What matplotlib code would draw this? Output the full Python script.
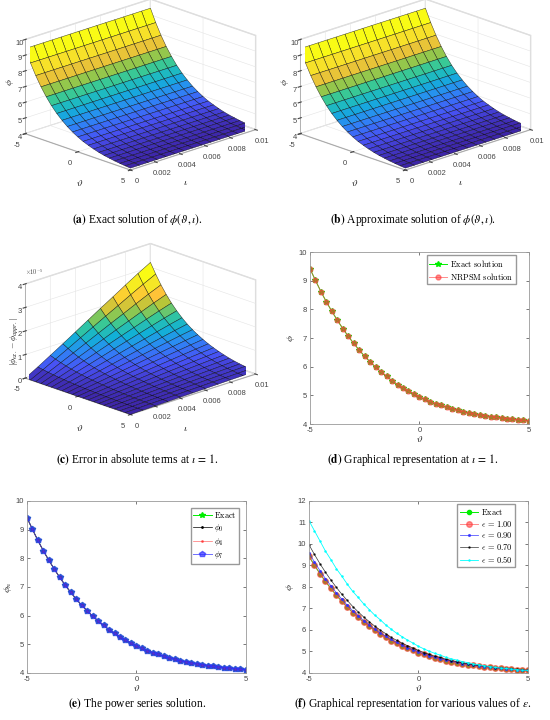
import numpy as np
import matplotlib.pyplot as plt
from matplotlib.colors import LinearSegmentedColormap

# ---------------- data ----------------
theta = np.linspace(-5, 5, 41)

phi_exact = [9.42, 9.01, 8.62, 8.26, 7.93, 7.62, 7.33, 7.06, 6.81, 6.58, 6.36,
             6.17, 5.98, 5.82, 5.66, 5.51, 5.38, 5.26, 5.15, 5.05, 4.95, 4.86,
             4.78, 4.71, 4.65, 4.58, 4.53, 4.48, 4.43, 4.39, 4.35, 4.32, 4.29,
             4.26, 4.23, 4.21, 4.19, 4.17, 4.15, 4.13, 4.12]
phi_nrpsm = phi_exact
phi_0 = phi_exact
phi_4 = phi_exact
phi_7 = phi_exact

phi_e100 = phi_exact
phi_e090 = [9.58, 9.16, 8.76, 8.39, 8.05, 7.73, 7.43, 7.15, 6.89, 6.66, 6.43,
            6.24, 6.04, 5.87, 5.71, 5.56, 5.42, 5.30, 5.18, 5.08, 4.98, 4.89,
            4.80, 4.73, 4.67, 4.60, 4.55, 4.49, 4.44, 4.40, 4.36, 4.33, 4.30,
            4.27, 4.24, 4.22, 4.20, 4.18, 4.15, 4.13, 4.12]
phi_e070 = [9.96, 9.51, 9.08, 8.69, 8.32, 7.98, 7.66, 7.37, 7.09, 6.84, 6.60,
            6.39, 6.18, 6.00, 5.83, 5.66, 5.52, 5.39, 5.27, 5.16, 5.05, 4.95,
            4.86, 4.78, 4.72, 4.64, 4.58, 4.53, 4.47, 4.43, 4.39, 4.35, 4.32,
            4.29, 4.25, 4.23, 4.21, 4.19, 4.17, 4.14, 4.13]
phi_e050 = [11.08, 10.61, 10.14, 9.67, 9.27, 8.85, 8.50, 8.13, 7.79, 7.51, 7.21,
            6.95, 6.69, 6.48, 6.24, 6.04, 5.85, 5.69, 5.53, 5.39, 5.24, 5.12,
            5.01, 4.91, 4.83, 4.73, 4.66, 4.60, 4.53, 4.48, 4.42, 4.38, 4.34,
            4.30, 4.26, 4.23, 4.21, 4.18, 4.16, 4.13, 4.12]

# surface grids
theta_s = theta[::2]
iota_a = np.linspace(0, 0.01, 15)
iota_c = np.linspace(0, 0.01, 11)
# error (x1e-5) along iota at theta=-5, and along theta at iota=0.01
err_iota_edge = [0.0, 0.30, 0.62, 0.94, 1.27, 1.60, 1.93, 2.25, 2.58, 2.90, 3.20]
err_theta_edge = [3.20, 2.78, 2.40, 2.07, 1.78, 1.53, 1.31, 1.12, 0.96, 0.82, 0.70,
                  0.59, 0.50, 0.42, 0.35, 0.29, 0.24, 0.20, 0.17, 0.14, 0.12]

# ---------------- style ----------------
plt.rcParams['mathtext.fontset'] = 'cm'
plt.rcParams['font.family'] = ['Liberation Sans', 'DejaVu Sans']
plt.rcParams['axes.unicode_minus'] = False
plt.rcParams['grid.color'] = '#e4e4e4'
plt.rcParams['grid.linewidth'] = 0.4

parula = LinearSegmentedColormap.from_list('parula', [
    (0.2422, 0.1504, 0.6603), (0.2810, 0.3228, 0.9579), (0.1786, 0.5289, 0.9682),
    (0.0689, 0.6948, 0.8394), (0.2161, 0.7843, 0.5923), (0.6720, 0.7793, 0.2227),
    (0.9970, 0.7659, 0.2199), (0.9598, 0.9135, 0.1425), (0.9769, 0.9839, 0.0805)])

tick_col = '#444444'
fig = plt.figure(figsize=(5.5, 7.2), dpi=100)


def px(x, y):
    # pixel position (from top-left) -> figure fraction
    return x / 550, 1 - y / 720


def surf_axes(rect, T, I, Z, zlim, zticks):
    ax = fig.add_axes(rect, projection='3d')
    ax.set_proj_type('ortho')
    ax.plot_surface(T, I, Z, cmap=parula, edgecolor=(0, 0, 0, 0.75),
                    linewidth=0.35, shade=False, rstride=1, cstride=1)
    ax.view_init(elev=19.5, azim=-44)
    ax.set_box_aspect((1, 1.15, 0.66), zoom=1.13)
    ax.set_xlim(-5, 5)
    ax.set_ylim(0, 0.01)
    ax.set_zlim(*zlim)
    ax.set_xticks([-5, 0, 5])
    ax.set_yticks([0, 0.002, 0.004, 0.006, 0.008, 0.01])
    ax.set_yticklabels(['0', '0.002', '0.004', '0.006', '0.008', '0.01'])
    ax.set_zticks(zticks)
    ax.zaxis.set_ticks_position('lower')
    ax.tick_params(labelsize=5.5, colors=tick_col, pad=-3)
    ax.tick_params(axis='z', pad=-6)
    for axis in (ax.xaxis, ax.yaxis, ax.zaxis):
        axis.set_pane_color((1, 1, 1, 1))
        axis.pane.set_edgecolor('#d8d8d8')
        axis.line.set_color('#999999')
        axis.line.set_linewidth(0.5)
    return ax


lab_kw = dict(fontsize=7, ha='center', va='center')

T_a, I_a = np.meshgrid(theta_s, iota_a, indexing='ij')
Z_a = np.tile(np.array(phi_exact[::2])[:, None], (1, len(iota_a)))
for dx in (0, 275):
    surf_axes([dx / 550, 0.7285, 0.5, 0.30], T_a, I_a, Z_a, (4, 10), range(4, 11))
    fig.text(*px(10 + dx, 82), r'$\phi$', rotation=90, **lab_kw)
    fig.text(*px(80 + dx, 183), r'$\vartheta$', **lab_kw)
    fig.text(*px(186 + dx, 182), r'$\iota$', **lab_kw)

T_c, I_c = np.meshgrid(theta_s, iota_c, indexing='ij')
Z_c = np.outer(np.array(err_theta_edge) / err_theta_edge[0], err_iota_edge)
ax_c = surf_axes([0.0, 0.389, 0.5, 0.30], T_c, I_c, Z_c, (0, 4), range(0, 5))
ax_c.text(-5, 0, 4.3, r'$\times10^{-5}$', fontsize=4.5, color=tick_col,
          ha='left', va='bottom')
fig.text(*px(15, 342), r'$|\phi_{ex.}-\phi_{appr.}|$', rotation=90,
         fontsize=6, ha='center', va='center')
fig.text(*px(80, 428), r'$\vartheta$', **lab_kw)
fig.text(*px(186, 428), r'$\iota$', **lab_kw)


def line_axes(rect, ylim, yticks, ylabel):
    ax = fig.add_axes(rect)
    ax.set_xlim(-5, 5)
    ax.set_ylim(*ylim)
    ax.set_xticks([-5, 0, 5])
    ax.set_yticks(yticks)
    ax.tick_params(direction='in', length=2.5, width=0.5, labelsize=5.5,
                   colors=tick_col, top=True, right=True, pad=2)
    for s in ax.spines.values():
        s.set_color('#999999')
        s.set_linewidth(0.6)
    ax.set_xlabel(r'$\vartheta$', fontsize=7, labelpad=0)
    ax.set_ylabel(ylabel, fontsize=7, labelpad=1)
    return ax


def legend(ax, anchor):
    ax.legend(loc='upper right', bbox_to_anchor=anchor, fontsize=6,
              fancybox=False, edgecolor='#999999', framealpha=1, borderpad=0.3,
              labelspacing=0.2, handlelength=2.2, handletextpad=0.3,
              borderaxespad=0)


# (d)
ax_d = line_axes([0.5636, 0.411, 0.398, 0.239], (4, 10), range(4, 11), r'$\phi$')
ax_d.plot(theta, phi_exact, color='#00ee00', marker='*', ms=4, lw=0.7,
          label=r'$\mathrm{Exact\ solution}$')
ax_d.plot(theta, phi_nrpsm, color='#ff4040', marker='o', ms=3.5, lw=0.7, alpha=0.6,
          label=r'$\mathrm{NRPSM\ solution}$')
legend(ax_d, (0.94, 0.98))

# (e)
ax_e = line_axes([0.049, 0.0653, 0.398, 0.239], (4, 10), range(4, 11), r'$\phi_n$')
ax_e.plot(theta, phi_exact, color='#00ee00', marker='*', ms=4, lw=0.7,
          label=r'$\mathrm{Exact}$')
ax_e.plot(theta, phi_0, color='k', marker='.', ms=2, lw=0.5, label=r'$\phi_0$')
ax_e.plot(theta, phi_4, color='#ff3030', marker='.', ms=2, lw=0.5, alpha=0.7,
          label=r'$\phi_4$')
ax_e.plot(theta, phi_7, color='#3030ff', marker='p', ms=4, lw=0.7, alpha=0.7,
          label=r'$\phi_7$')
legend(ax_e, (0.97, 0.96))

# (f)
ax_f = line_axes([0.5618, 0.0653, 0.398, 0.239], (4, 12), range(4, 13), r'$\phi$')
ax_f.plot(theta, phi_exact, color='#00ee00', marker='o', ms=3, lw=0.7,
          label=r'$\mathrm{Exact}$')
ax_f.plot(theta, phi_e100, color='#ff4040', marker='o', ms=4, lw=0.7, alpha=0.6,
          label=r'$\epsilon\,=\,1.00$')
ax_f.plot(theta, phi_e090, color='#3030ff', marker='.', ms=2.5, lw=0.6, alpha=0.8,
          label=r'$\epsilon\,=\,0.90$')
ax_f.plot(theta, phi_e070, color='k', marker='.', ms=1.5, lw=0.5, alpha=0.8,
          label=r'$\epsilon\,=\,0.70$')
ax_f.plot(theta, phi_e050, color='#00ffff', marker='.', ms=1.5, lw=0.6,
          label=r'$\epsilon\,=\,0.50$')
legend(ax_f, (0.94, 0.98))

# captions
cap_kw = dict(ha='center', va='center', fontsize=8.3, family='Liberation Serif',
              math_fontfamily='stix')
fig.text(0.25, 1 - 220 / 720, r'$\mathbf{(a)}$ Exact solution of $\phi(\vartheta, \iota)$.', **cap_kw)
fig.text(0.75, 1 - 220 / 720, r'$\mathbf{(b)}$ Approximate solution of $\phi(\vartheta, \iota)$.', **cap_kw)
fig.text(0.25, 1 - 460 / 720, r'$\mathbf{(c)}$ Error in absolute terms at $\iota\,=\,1$.', **cap_kw)
fig.text(0.75, 1 - 460 / 720, r'$\mathbf{(d)}$ Graphical representation at $\iota\,=\,1$.', **cap_kw)
fig.text(0.25, 1 - 704 / 720, r'$\mathbf{(e)}$ The power series solution.', **cap_kw)
fig.text(0.75, 1 - 704 / 720, r'$\mathbf{(f)}$ Graphical representation for various values of $\epsilon$.', **cap_kw)

fig.savefig('out.png', dpi=100)
